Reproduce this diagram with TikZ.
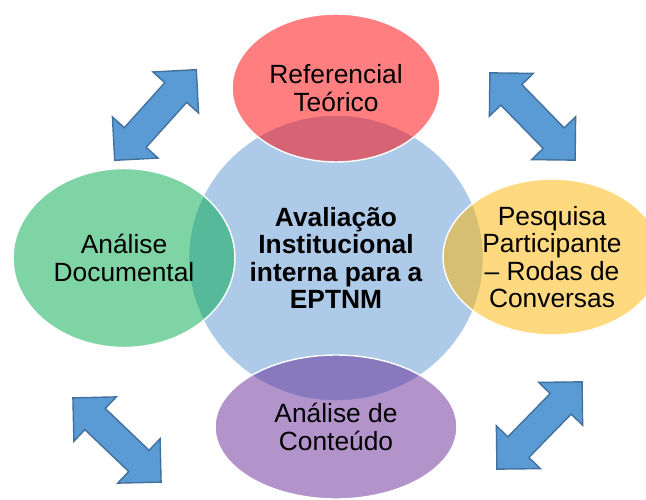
\documentclass[tikz,border=0pt]{standalone}
\usepackage{fontspec}
\setmainfont{Liberation Sans}
\usetikzlibrary{shapes.geometric, shapes.arrows}

\definecolor{hubblue}{RGB}{173,202,232}
\definecolor{topred}{RGB}{255,0,4}
\definecolor{topgreen}{RGB}{0,170,77}
\definecolor{topyellow}{RGB}{255,180,0}
\definecolor{toppurple}{RGB}{101,41,151}
\definecolor{linkfill}{RGB}{91,155,213}
\definecolor{linkline}{RGB}{65,113,156}

\begin{document}
\begin{tikzpicture}[
x=0.02cm, y=-0.02cm,
hub/.style={ellipse, fill=hubblue, draw=white, line width=0.8pt, inner sep=0pt, minimum width=5.9cm, minimum height=5.72cm, align=center, font=\bfseries\fontsize{15}{15.5}\selectfont},
topic/.style={ellipse, draw=white, line width=0.8pt, fill opacity=0.5, text opacity=1, inner sep=0pt, align=center, font=\fontsize{15}{15.5}\selectfont},
link/.style={double arrow, double arrow head extend=0.32cm, double arrow tip angle=90, minimum height=2.44cm, minimum width=1.2cm, inner xsep=0pt, inner ysep=0.28cm, fill=linkfill, draw=linkline, line width=0.8pt}
]
\useasboundingbox (0,0) rectangle (646,500);

\node[hub] (hub) at (336,258) {Avaliação\\Institucional\\interna para a\\EPTNM};
\node[topic, fill=topred, minimum width=4.16cm, minimum height=2.96cm] (ref) at (336,88) {Referencial\\Teórico};
\node[topic, fill=topgreen, minimum width=4.44cm, minimum height=3.58cm] (doc) at (124,258) {Análise\\Documental};
\node[topic, fill=topyellow, minimum width=4.36cm, minimum height=3.12cm] (pesq) at (552,257) {Pesquisa\\Participante\\– Rodas de\\Conversas};
\node[topic, fill=toppurple, minimum width=4.84cm, minimum height=2.88cm] (cont) at (336,427) {Análise de\\Conteúdo};

\node[link, rotate=48] (refdoc) at (155.5,115) {};
\node[link, rotate=-45.7] (refpesq) at (532.5,116.5) {};
\node[link, rotate=-43.7] (doccont) at (117,440) {};
\node[link, rotate=45.7] (pesqcont) at (539.5,425.5) {};
\end{tikzpicture}
\end{document}
